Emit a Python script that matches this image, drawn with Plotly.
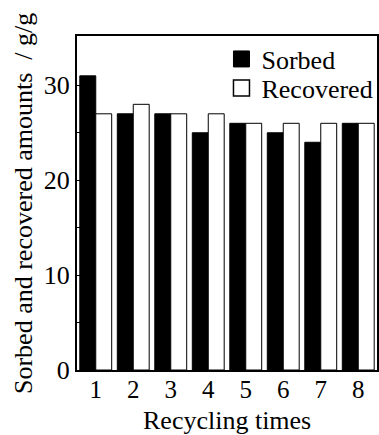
import plotly.graph_objects as go

cycles = [1, 2, 3, 4, 5, 6, 7, 8]
sorbed = [31, 27, 27, 25, 26, 25, 24, 26]
recovered = [27, 28, 27, 27, 26, 26, 26, 26]

FONT = "Liberation Serif, Times New Roman, serif"
FS = 26

fig = go.Figure()
fig.add_trace(go.Bar(x=cycles, y=sorbed, name="Sorbed", showlegend=False,
                     marker=dict(color="black", line=dict(color="black", width=1))))
fig.add_trace(go.Bar(x=cycles, y=recovered, name="Recovered", showlegend=False,
                     marker=dict(color="white", line=dict(color="black", width=1))))
# legend entries with larger square symbols, each in its own legend for tight spacing
fig.add_trace(go.Scatter(x=[None], y=[None], mode="markers", name="Sorbed", legend="legend",
                         marker=dict(symbol="square", size=16, color="black",
                                     line=dict(color="black", width=1))))
fig.add_trace(go.Scatter(x=[None], y=[None], mode="markers", name="Recovered", legend="legend2",
                         marker=dict(symbol="square", size=16, color="white",
                                     line=dict(color="black", width=1.5))))

leg_common = dict(x=0.48, xanchor="left", yanchor="middle",
                  bgcolor="rgba(0,0,0,0)", font=dict(size=FS, family=FONT),
                  itemsizing="trace", itemwidth=30)

fig.update_layout(
    width=379, height=435,
    margin=dict(l=77, r=1, t=36, b=65),
    paper_bgcolor="white", plot_bgcolor="white",
    barmode="group", bargap=0.15, bargroupgap=0,
    font=dict(family=FONT, color="black", size=FS),
    showlegend=True,
    legend=dict(y=0.931, **leg_common),
    legend2=dict(y=0.844, **leg_common),
    xaxis=dict(range=[0.5, 8.5], tickvals=cycles, ticktext=[str(c) for c in cycles],
               showline=True, linecolor="black", linewidth=2, mirror=True,
               ticks="", showgrid=False, zeroline=False, ticklabelstandoff=-4,
               tickfont=dict(size=25, family=FONT)),
    yaxis=dict(range=[0, 35.2], tickvals=[0, 10, 20, 30],
               showline=True, linecolor="black", linewidth=2, mirror=True,
               ticks="inside", ticklen=5, tickcolor="black",
               minor=dict(tickvals=[5, 15, 25], ticks="inside", ticklen=3, tickcolor="black"),
               showgrid=False, zeroline=False, tickfont=dict(size=FS, family=FONT)),
)
fig.add_annotation(text="Recycling times",
                   xref="paper", yref="paper", x=0.5, y=-0.152,
                   xanchor="center", yanchor="middle", showarrow=False,
                   font=dict(size=FS, family=FONT))
fig.add_annotation(text="Sorbed and recovered amounts  / g/g", textangle=-90,
                   xref="paper", yref="paper", x=-0.18, y=0.497,
                   xanchor="center", yanchor="middle", showarrow=False,
                   font=dict(size=FS, family=FONT))
fig.write_html("out.html")
